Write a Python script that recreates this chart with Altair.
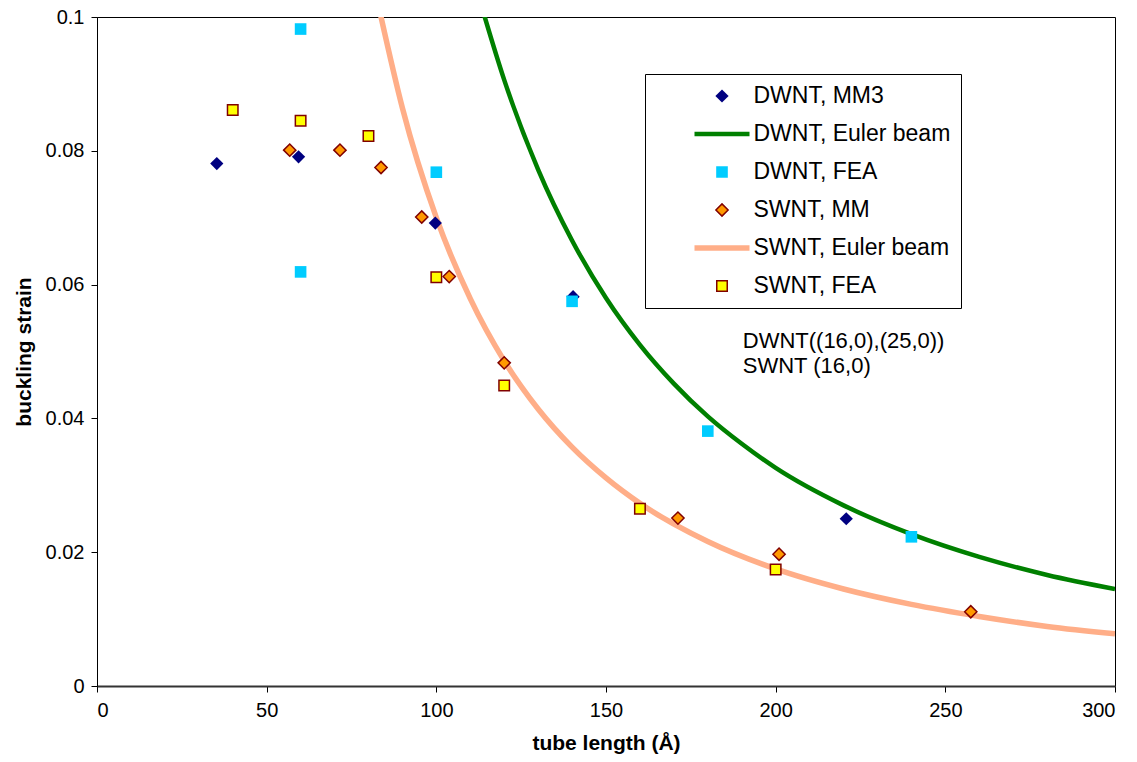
import altair as alt
import pandas as pd

# Series names, in drawing / legend order
SERIES = [
    "DWNT, MM3",
    "DWNT, Euler beam",
    "DWNT, FEA",
    "SWNT, MM",
    "SWNT, Euler beam",
    "SWNT, FEA",
]

# Measured buckling strains (tube length in Å)
dwnt_mm3_len = [35.3, 59.4, 99.7, 140.3, 220.8]
dwnt_mm3_eps = [0.0781, 0.0791, 0.0692, 0.0582, 0.0250]

dwnt_fea_len = [60, 60, 100, 140, 180, 240]
dwnt_fea_eps = [0.0982, 0.0619, 0.0768, 0.0575, 0.0381, 0.0223]

swnt_mm_len = [56.8, 71.6, 83.7, 95.7, 103.8, 120, 171.2, 201, 257.5]
swnt_mm_eps = [0.0801, 0.0801, 0.0775, 0.0701, 0.0612, 0.0483, 0.0251, 0.0197, 0.0111]

swnt_fea_len = [40, 60, 80, 100, 120, 160, 200]
swnt_fea_eps = [0.0861, 0.0845, 0.0822, 0.0611, 0.0449, 0.0265, 0.0174]

# Euler beam predictions
dwnt_euler_len = [113.5, 120, 130, 140, 150, 160, 170, 180, 190, 200, 220, 240, 260, 280, 300]
dwnt_euler_eps = [0.1013, 0.0906, 0.0772, 0.0666, 0.0580, 0.0510, 0.0452, 0.0403, 0.0362,
                  0.0326, 0.0270, 0.0227, 0.0193, 0.0166, 0.0145]

swnt_euler_len = [83.0, 90, 100, 110, 120, 130, 140, 150, 160, 180, 200, 220, 240, 260, 280, 300]
swnt_euler_eps = [0.1016, 0.0864, 0.0700, 0.0579, 0.0486, 0.0414, 0.0357, 0.0311, 0.0273,
                  0.0216, 0.0175, 0.0145, 0.0122, 0.0104, 0.0089, 0.0078]

# Annotation
note_lines = ["DWNT((16,0),(25,0))", "SWNT (16,0)"]
note_x = [190.3, 190.3]
note_y = [0.0515, 0.0478]


def frame(name, xs, ys):
    return pd.DataFrame({"series": name, "length": xs, "strain": ys})


points = pd.concat([
    frame(SERIES[0], dwnt_mm3_len, dwnt_mm3_eps),
    frame(SERIES[2], dwnt_fea_len, dwnt_fea_eps),
    frame(SERIES[3], swnt_mm_len, swnt_mm_eps),
    frame(SERIES[5], swnt_fea_len, swnt_fea_eps),
], ignore_index=True)

curves = pd.concat([
    frame(SERIES[1], dwnt_euler_len, dwnt_euler_eps),
    frame(SERIES[4], swnt_euler_len, swnt_euler_eps),
], ignore_index=True)

notes = pd.DataFrame({"text": note_lines, "length": note_x, "strain": note_y})

FONT = "Liberation Sans"

fill_range = ["#000080", "transparent", "#00CCFF", "#FF9900", "transparent", "#FFFF00"]
stroke_range = ["#000080", "#008000", "#00CCFF", "#800000", "#FFAE88", "#800000"]
shape_range = ["diamond", "stroke", "square", "diamond", "stroke", "square"]
size_range = [175, 3025, 135, 150, 3025, 110]
width_range = [0, 4.5, 0, 1.5, 5.5, 1.5]

x_enc = alt.X(
    "length:Q",
    scale=alt.Scale(domain=[0, 300], nice=False),
    axis=alt.Axis(values=[0, 50, 100, 150, 200, 250, 300], title="tube length (Å)",
                  labelPadding=8, titlePadding=12, domainColor="#333333", domainWidth=2),
)
y_enc = alt.Y(
    "strain:Q",
    scale=alt.Scale(domain=[0, 0.1], nice=False),
    axis=alt.Axis(values=[0, 0.02, 0.04, 0.06, 0.08, 0.1], format="~g", title="buckling strain",
                  labelPadding=7, titlePadding=11),
)

legend = alt.Legend(
    title=None,
    orient="none",
    legendX=548,
    legendY=57,
    padding=10,
    fillColor="white",
    strokeColor="black",
    labelFont=FONT,
    labelFontSize=23,
    labelColor="black",
    labelLimit=400,
    labelOffset=1,
    symbolOffset=36.5,
    rowPadding=14,
    clipHeight=24,
)

stroke_enc = alt.Stroke("series:N", scale=alt.Scale(domain=SERIES, range=stroke_range), legend=legend)
width_enc = alt.StrokeWidth(
    "series:N", scale=alt.Scale(type="ordinal", domain=SERIES, range=width_range), legend=legend
)

lines = alt.Chart(curves).mark_line(clip=True, interpolate="monotone", opacity=1).encode(
    x=x_enc,
    y=y_enc,
    stroke=stroke_enc,
    strokeWidth=width_enc,
    detail="series:N",
)

markers = alt.Chart(points).mark_point(filled=True, opacity=1).encode(
    x=x_enc,
    y=y_enc,
    fill=alt.Fill("series:N", scale=alt.Scale(domain=SERIES, range=fill_range), legend=legend),
    stroke=stroke_enc,
    strokeWidth=width_enc,
    shape=alt.Shape("series:N", scale=alt.Scale(domain=SERIES, range=shape_range), legend=legend),
    size=alt.Size("series:N", scale=alt.Scale(type="ordinal", domain=SERIES, range=size_range),
                  legend=legend),
    order=alt.Order("idx:Q"),
).transform_window(idx="row_number()")

text = alt.Chart(notes).mark_text(
    align="left", baseline="middle", font=FONT, fontSize=22, color="black"
).encode(x=x_enc, y=y_enc, text="text:N")

chart = (
    alt.layer(lines, markers, text)
    .properties(
        width=1018,
        height=669,
        autosize=alt.AutoSizeParams(type="none"),
        padding={"left": 97, "top": 17, "right": 22, "bottom": 76},
        background="white",
    )
    .configure_view(stroke="black", strokeWidth=1)
    .configure_axis(
        grid=False,
        domainColor="black",
        tickColor="black",
        tickSize=6,
        labelFont=FONT,
        labelFontSize=20,
        labelColor="black",
        titleFont=FONT,
        titleFontSize=21,
        titleFontWeight="bold",
        titleColor="black",
    )
)

chart.save("out.html", embed_options={"renderer": "svg", "actions": False})
